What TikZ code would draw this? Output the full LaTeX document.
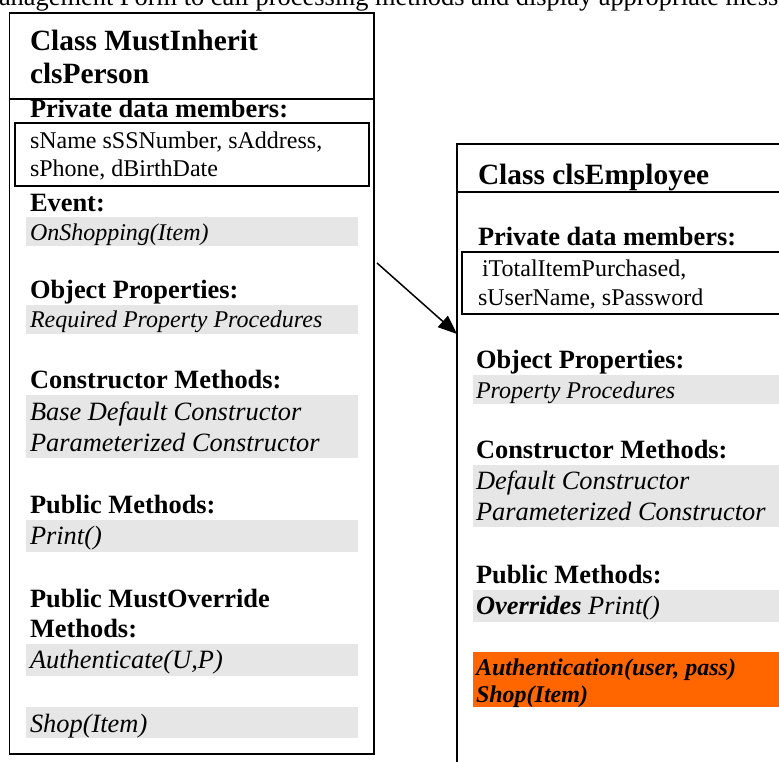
\documentclass[tikz,border=0pt]{standalone}
\usepackage{fontspec}
\setmainfont{Liberation Serif}
\usetikzlibrary{arrows.meta}
\definecolor{bandgray}{HTML}{E6E6E6}
\definecolor{bandorange}{HTML}{FF6600}
\tikzset{
  txt/.style={anchor=base west, inner sep=0pt, outer sep=0pt},
  clstitle/.style={txt, font=\fontsize{29.4}{33}\selectfont\bfseries},
  heading/.style={txt, font=\fontsize{26.4}{30}\selectfont\bfseries},
  smalltxt/.style={txt, font=\fontsize{24}{27}\selectfont},
  smallit/.style={txt, font=\fontsize{24}{27}\selectfont\itshape},
  itemtxt/.style={txt, font=\fontsize{26.4}{30}\selectfont\itshape},
  bolditem/.style={txt, font=\fontsize{24}{27}\selectfont\bfseries\itshape},
  boxline/.style={draw=black, line width=1.8pt},
  sepline/.style={draw=black, line width=1.3pt},
  band/.style={fill=bandgray},
  obandstyle/.style={fill=bandorange},
  inherit/.style={draw=black, line width=1.5pt, -{Triangle[length=19pt,width=15pt]}}
}
\begin{document}
\begin{tikzpicture}[x=1pt,y=-1pt]
\clip (0,0) rectangle (779,761);
\fill[white] (0,0) rectangle (779,761);

% top running text (cut by the page edge, as in the reference)
\node[txt, font=\fontsize{26.4}{30}\selectfont] (toptext) at (-1,5) {anagement Form to call processing methods and display appropriate mess};

% ---------------- left class box ----------------
\node[boxline, rectangle, minimum width=364.5pt, minimum height=741.3pt, inner sep=0pt, outer sep=0pt] (person) at (191.75,383.35) {};
\draw[sepline] (9.5,99) -- (375,99);
\node[clstitle] (pt1) at (30,50) {Class MustInherit};
\node[clstitle] (pt2) at (30,83) {clsPerson};
\node[heading] (ph1) at (30,117) {Private data members:};
\draw[boxline] (15,123) rectangle (369,186);
\node[smalltxt] (pd1) at (30,148) {sName sSSNumber, sAddress,};
\node[smalltxt] (pd2) at (30,176) {sPhone, dBirthDate};

\node[heading] (ph2) at (30,211) {Event:};
\fill[band] (26,217) rectangle (358,246);
\node[smallit] (pe1) at (30,240) {OnShopping(Item)};

\node[heading] (ph3) at (30,298) {Object Properties:};
\fill[band] (26,305) rectangle (358,334);
\node[smallit] (po1) at (30,327) {Required Property Procedures};

\node[heading] (ph4) at (30,388) {Constructor Methods:};
\fill[band] (26,395) rectangle (358,458);
\node[itemtxt] (pc1) at (30,420) {Base Default Constructor};
\node[itemtxt] (pc2) at (30,451) {Parameterized Constructor};

\node[heading] (ph5) at (30,513) {Public Methods:};
\fill[band] (26,520) rectangle (358,552);
\node[itemtxt] (pm1) at (30,544) {Print()};

\node[heading] (ph6) at (30,607) {Public MustOverride};
\node[heading] (ph7) at (30,637) {Methods:};
\fill[band] (26,644) rectangle (358,676);
\node[itemtxt] (pa1) at (30,668) {Authenticate(U,P)};
\fill[band] (26,707) rectangle (358,738);
\node[itemtxt] (pa2) at (30,732) {Shop(Item)};

% ---------------- right class box ----------------
\draw[boxline] (800,144) -- (457,144) -- (457,780);
\coordinate (emp) at (457,334);
\draw[sepline] (457,192) -- (800,192);
\node[clstitle] (et1) at (478,184) {Class clsEmployee};
\node[heading] (eh1) at (478,245) {Private data members:};
\draw[boxline] (462,252) rectangle (800,314);
\node[smalltxt] (ed1) at (476,276) {\ iTotalItemPurchased,};
\node[smalltxt] (ed2) at (478,305) {sUserName, sPassword};

\node[heading] (eh2) at (476,368) {Object Properties:};
\fill[band] (473,375) rectangle (800,404);
\node[smallit] (eo1) at (476,398) {Property Procedures};

\node[heading] (eh3) at (476,458) {Constructor Methods:};
\fill[band] (473,465) rectangle (800,527);
\node[itemtxt] (ec1) at (476,489) {Default Constructor};
\node[itemtxt] (ec2) at (476,520) {Parameterized Constructor};

\node[heading] (eh4) at (476,583) {Public Methods:};
\fill[band] (473,590) rectangle (800,622);
\node[itemtxt] (em1) at (476,614) {\textbf{Overrides} Print()};

\fill[obandstyle] (473,652) rectangle (800,707);
\node[bolditem] (ea1) at (476,675) {Authentication(user, pass)};
\node[bolditem] (ea2) at (476,702) {Shop(Item)};

% ---------------- inheritance arrow ----------------
\coordinate (arrS) at (377,263);
\draw[inherit] (arrS) -- (emp);
\end{tikzpicture}
\end{document}
